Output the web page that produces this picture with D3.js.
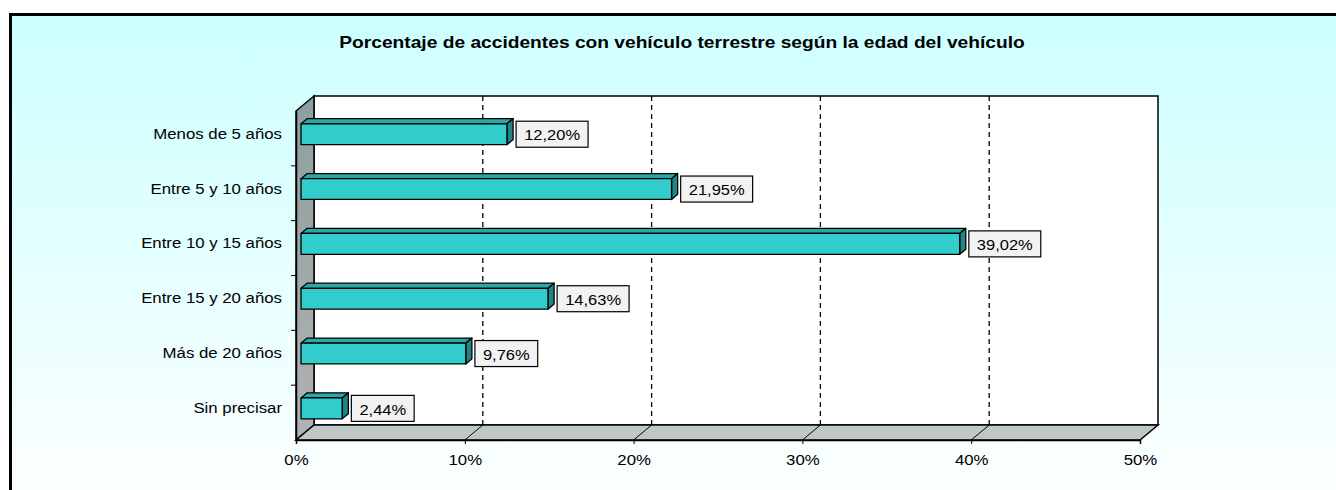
<head>
    <meta charset="utf-8">
    <style> body { margin: 0; background: #fff; } text { font-family: "Liberation Sans", Arial, sans-serif; } </style>
    <script src="https://d3js.org/d3.v7.min.js"></script>
</head>
<body>
<div id="chart"></div>
<script>

    var titulo = "Porcentaje de accidentes con vehículo terrestre según la edad del vehículo";
    var categorias = ["Menos de 5 años", "Entre 5 y 10 años", "Entre 10 y 15 años", "Entre 15 y 20 años", "Más de 20 años", "Sin precisar"];
    var valores = [12.20, 21.95, 39.02, 14.63, 9.76, 2.44];
    var ticks = [0, 10, 20, 30, 40, 50];

    var W = 1336, H = 490;

    // front plane of the 3d box, and the depth offset of the back wall
    var pLeft = 296, pRight = 1140, pTop = 111, pBottom = 440;
    var ddx = 18, ddy = -15;
    var d1 = 0.28, d2 = 0.62;   // depth of bar front / back face
    var sx = 1.12;              // the original text is a bit stretched

    var svg = d3.select("#chart").append("svg")
        .attr("width", W)
        .attr("height", H);

    var defs = svg.append("defs");
    var bg = defs.append("linearGradient").attr("id", "bg")
        .attr("x1", 0).attr("y1", 0).attr("x2", 0).attr("y2", 1);
    bg.append("stop").attr("offset", "0%").attr("stop-color", "#ccffff");
    bg.append("stop").attr("offset", "100%").attr("stop-color", "#ffffff");

    var wallg = defs.append("linearGradient").attr("id", "wallg")
        .attr("x1", 0).attr("y1", 0).attr("x2", 0).attr("y2", 1);
    wallg.append("stop").attr("offset", "0%").attr("stop-color", "#8c9f9f");
    wallg.append("stop").attr("offset", "100%").attr("stop-color", "#b2b2b2");

    // outer frame
    svg.append("rect")
        .attr("x", 10.5).attr("y", 14.5)
        .attr("width", W + 20).attr("height", H + 20)
        .attr("fill", "url(#bg)")
        .attr("stroke", "#000")
        .attr("stroke-width", 3);

    svg.append("text")
        .attr("transform", "translate(682,48) scale(1.2,1)")
        .attr("text-anchor", "middle")
        .attr("font-size", "16px")
        .attr("font-weight", "bold")
        .text(titulo);

    var x = d3.scaleLinear().domain([0, 50]).range([pLeft, pRight]);
    var y = d3.scaleBand().domain(categorias).range([pTop, pBottom]).paddingInner(0.62).paddingOuter(0.31);
    var yb = d3.scaleBand().domain(categorias).range([pTop, pBottom]);

    function pts(a) { return a.map(p => p.join(",")).join(" "); }

    // back wall
    svg.append("rect")
        .attr("x", pLeft + ddx).attr("y", pTop + ddy)
        .attr("width", pRight - pLeft).attr("height", pBottom - pTop)
        .attr("fill", "#fff")
        .attr("stroke", "#000")
        .attr("stroke-width", 1.5);

    // left wall
    svg.append("polygon")
        .attr("points", pts([[pLeft, pTop], [pLeft + ddx, pTop + ddy], [pLeft + ddx, pBottom + ddy], [pLeft, pBottom]]))
        .attr("fill", "url(#wallg)")
        .attr("stroke", "#000")
        .attr("stroke-width", 1.5);

    // floor
    svg.append("polygon")
        .attr("points", pts([[pLeft, pBottom], [pLeft + ddx, pBottom + ddy], [pRight + ddx, pBottom + ddy], [pRight, pBottom]]))
        .attr("fill", "#c0c7c7")
        .attr("stroke", "#000")
        .attr("stroke-width", 1.5);

    // grid lines
    var grid = svg.append("g");
    ticks.slice(1, -1).forEach(function(t) {
        grid.append("line")
            .attr("x1", x(t) + ddx).attr("x2", x(t) + ddx)
            .attr("y1", pTop + ddy).attr("y2", pBottom + ddy)
            .attr("stroke", "#000")
            .attr("stroke-dasharray", "5,4")
            .attr("stroke-width", 1.3);
        grid.append("line")
            .attr("x1", x(t) + ddx).attr("x2", x(t))
            .attr("y1", pBottom + ddy).attr("y2", pBottom)
            .attr("stroke", "#000")
            .attr("stroke-width", 1);
    });

    // x axis
    var xa = svg.append("g")
        .attr("transform", "translate(0," + pBottom + ")")
        .call(d3.axisBottom(x).tickValues(ticks).tickSize(4).tickPadding(10).tickFormat(d => d + "%"));
    xa.select(".domain").attr("stroke", "#000").attr("stroke-width", 1.5);
    xa.selectAll("text").attr("font-size", "15px").attr("fill", "#000")
        .attr("font-family", "Liberation Sans, Arial, sans-serif")
        .attr("transform", "scale(" + sx + ",1)");

    // category axis
    var ya = svg.append("g")
        .attr("transform", "translate(" + pLeft + ",0)")
        .call(d3.axisLeft(yb).tickSize(0).tickPadding(14));
    ya.select(".domain").attr("stroke", "#000").attr("stroke-width", 1.5);
    ya.selectAll("text").attr("font-size", "15px").attr("fill", "#000")
        .attr("font-family", "Liberation Sans, Arial, sans-serif")
        .attr("dy", "0.32em")
        .attr("transform", "translate(-14," + (ddy * 0.3) + ") scale(" + sx + ",1) translate(14,0)");
    categorias.forEach(function(c, i) {
        if (i == 0) return;
        ya.append("line")
            .attr("x1", -5).attr("x2", 0)
            .attr("y1", yb(c)).attr("y2", yb(c))
            .attr("stroke", "#000");
    });

    // bars
    var bars = svg.append("g");
    var datos = categorias.map((c, i) => ({ cat: c, val: valores[i] }));
    datos.forEach(function(d) {
        var fx0 = x(0) + ddx * d1, fx1 = x(d.val) + ddx * d1;
        var fy0 = y(d.cat) + ddy * d1, fy1 = fy0 + y.bandwidth();
        var ox = ddx * (d2 - d1), oy = ddy * (d2 - d1);
        var g = bars.append("g").attr("stroke", "#000").attr("stroke-width", 1.3).attr("stroke-linejoin", "round");
        g.append("polygon")
            .attr("points", pts([[fx0, fy0], [fx0 + ox, fy0 + oy], [fx1 + ox, fy0 + oy], [fx1, fy0]]))
            .attr("fill", "#29a8a8");
        g.append("polygon")
            .attr("points", pts([[fx1, fy0], [fx1 + ox, fy0 + oy], [fx1 + ox, fy1 + oy], [fx1, fy1]]))
            .attr("fill", "#1f8585");
        g.append("rect")
            .attr("x", fx0).attr("y", fy0)
            .attr("width", fx1 - fx0).attr("height", fy1 - fy0)
            .attr("fill", "#33cccc");

        var lab = d3.format(".2f")(d.val).replace(".", ",") + "%";
        var lg = bars.append("g");
        var t = lg.append("text")
            .attr("font-size", "15px")
            .attr("text-anchor", "middle")
            .attr("dy", "0.35em")
            .text(lab);
        var tw = t.node().getComputedTextLength() * 1.1;
        var bx = fx1 + ox + 3;
        var cy = (fy0 + fy1) / 2;
        var bw = tw + 16;
        lg.insert("rect", "text")
            .attr("x", bx).attr("y", cy - 13)
            .attr("width", bw).attr("height", 26)
            .attr("fill", "#f2f2f2")
            .attr("stroke", "#000")
            .attr("stroke-width", 1.2);
        t.attr("transform", "translate(" + (bx + bw / 2) + "," + (cy + 1) + ") scale(1.1,1)");
    });

</script>
</body>
